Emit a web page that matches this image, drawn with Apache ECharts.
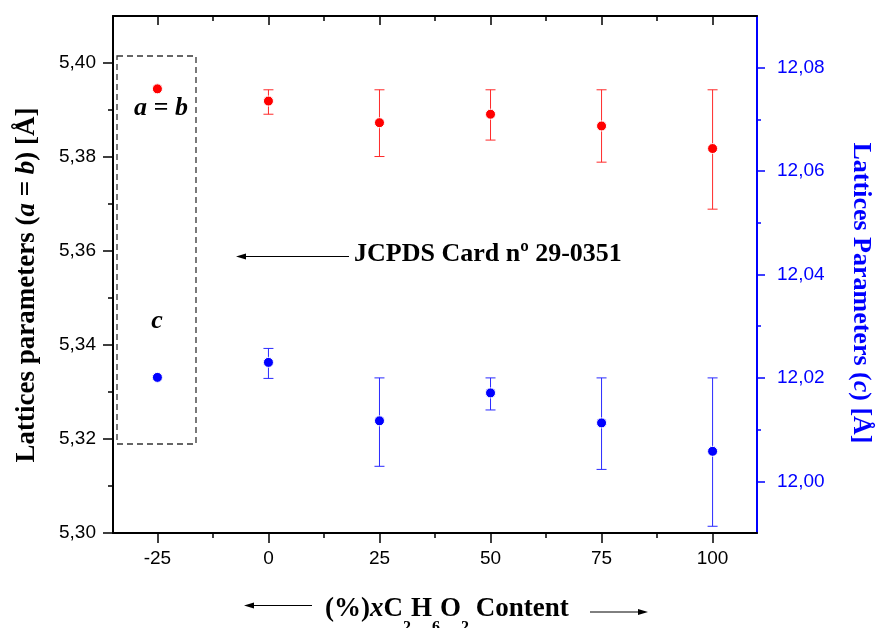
<!DOCTYPE html>
<html><head><meta charset="utf-8">
<script src="https://cdn.jsdelivr.net/npm/echarts@6/dist/echarts.min.js"></script>
<style>html,body{margin:0;padding:0;background:#fff}#c{width:877px;height:628px}</style>
</head><body><div id="c"></div>
<script>
// ---- data ----
const xs      = [-25, 0, 25, 50, 75, 100];
const abVals  = [5.3945, 5.3919, 5.3873, 5.3891, 5.3866, 5.3818];
const abLow   = [null, 5.3891, 5.3801, 5.3836, 5.3789, 5.3689];
const abHigh  = [null, 5.3943, 5.3943, 5.3943, 5.3943, 5.3943];
const cVals   = [12.0201, 12.0230, 12.0117, 12.0171, 12.0113, 12.0058];
const cLow    = [null, 12.0199, 12.0029, 12.0138, 12.0023, 11.9913];
const cHigh   = [null, 12.0257, 12.0200, 12.0200, 12.0200, 12.0200];
// ---- ticks ----
const xMajor = [-25, 0, 25, 50, 75, 100];
const xMinor = [-12.5, 12.5, 37.5, 62.5, 87.5];
const leftMajor = [5.30, 5.32, 5.34, 5.36, 5.38, 5.40];
const leftMinor = [5.31, 5.33, 5.35, 5.37, 5.39];
const rightMajor = [12.00, 12.02, 12.04, 12.06, 12.08];
const rightMinor = [12.01, 12.03, 12.05, 12.07];

const SERIF = '"Liberation Serif", "Times New Roman", serif';
const SANS = '"Liberation Sans", Arial, sans-serif';
const fmt = v => v.toFixed(2).replace('.', ',');

function errRender(params, api) {
  const x = api.value(0), lo = api.value(1), hi = api.value(2);
  const pH = api.coord([x, hi]), pL = api.coord([x, lo]);
  const w = 5;
  const st = { stroke: api.visual('color'), lineWidth: 1 };
  return { type: 'group', children: [
    { type: 'line', shape: { x1: pH[0], y1: pH[1], x2: pL[0], y2: pL[1] }, style: st },
    { type: 'line', shape: { x1: pH[0]-w, y1: pH[1], x2: pH[0]+w, y2: pH[1] }, style: st },
    { type: 'line', shape: { x1: pL[0]-w, y1: pL[1], x2: pL[0]+w, y2: pL[1] }, style: st }
  ]};
}
const abErr = xs.map((x, i) => [x, abLow[i], abHigh[i]]).filter(d => d[1] != null);
const cErr = xs.map((x, i) => [x, cLow[i], cHigh[i]]).filter(d => d[1] != null);

const XMIN = -35, XMAX = 110;
function xAx(pos, values, len, inside, showLine, showLabel) {
  return { type: 'value', position: pos, min: XMIN, max: XMAX,
    axisLine: { show: showLine, onZero: false, lineStyle: { color: '#000', width: 2 } },
    axisTick: { show: true, inside: inside, length: len, customValues: values, lineStyle: { color: '#000', width: 1.5 } },
    axisLabel: { show: showLabel, customValues: values, margin: 16, fontSize: 19, fontFamily: SANS, color: '#000' },
    splitLine: { show: false } };
}
function yAx(pos, min, max, values, len, color, showLine, showLabel, margin) {
  return { type: 'value', position: pos, min: min, max: max,
    axisLine: { show: showLine, onZero: false, lineStyle: { color: color, width: 2 } },
    axisTick: { show: true, length: len, customValues: values, lineStyle: { color: color, width: 1.5 } },
    axisLabel: { show: showLabel, customValues: values, formatter: fmt, margin: margin, fontSize: 19, fontFamily: SANS, color: color },
    splitLine: { show: false } };
}

const chart = echarts.init(document.getElementById('c'), null, { renderer: 'canvas' });
chart.setOption({
  animation: false,
  backgroundColor: '#fff',
  grid: { left: 113, right: 120, top: 16, bottom: 95 },
  xAxis: [
    xAx('bottom', xMajor, 10, false, true, true),
    xAx('bottom', xMinor, 5, false, false, false),
    xAx('top', xMajor, 9, true, true, false),
    xAx('top', xMinor, 5, true, false, false)
  ],
  yAxis: [
    yAx('left', 5.30, 5.41, leftMajor, 10, '#000', true, true, 17),
    yAx('left', 5.30, 5.41, leftMinor, 5, '#000', false, false, 17),
    yAx('right', 11.99, 12.09, rightMajor, 8, '#0000ff', true, true, 20),
    yAx('right', 11.99, 12.09, rightMinor, 4, '#0000ff', false, false, 20)
  ],
  series: [
    { type: 'custom', xAxisIndex: 0, yAxisIndex: 0, renderItem: errRender, data: abErr,
      encode: { x: 0, y: [1, 2] }, itemStyle: { color: '#ff2a2a' }, z: 2 },
    { type: 'custom', xAxisIndex: 0, yAxisIndex: 2, renderItem: errRender, data: cErr,
      encode: { x: 0, y: [1, 2] }, itemStyle: { color: '#2a2aff' }, z: 2 },
    { type: 'scatter', xAxisIndex: 0, yAxisIndex: 0, symbol: 'circle', symbolSize: 10,
      data: xs.map((x, i) => [x, abVals[i]]),
      itemStyle: { color: '#ff0000', borderColor: '#fff', borderWidth: 1, opacity: 1 }, z: 5 },
    { type: 'scatter', xAxisIndex: 0, yAxisIndex: 2, symbol: 'circle', symbolSize: 10,
      data: xs.map((x, i) => [x, cVals[i]]),
      itemStyle: { color: '#0000ff', borderColor: '#fff', borderWidth: 1, opacity: 1 }, z: 5 }
  ],
  graphic: [
    // dashed box
    { type: 'rect', shape: { x: 117, y: 56, width: 79, height: 388 },
      style: { fill: 'none', stroke: '#333', lineWidth: 1.3, lineDash: [6, 4] }, z: 10 },
    { type: 'text', x: 161, y: 108, style: { text: 'a = b', font: 'italic bold 26px ' + SERIF, fill: '#000', align: 'center', verticalAlign: 'middle' }, z: 10 },
    { type: 'text', x: 157, y: 321, style: { text: 'c', font: 'italic bold 26px ' + SERIF, fill: '#000', align: 'center', verticalAlign: 'middle' }, z: 10 },
    // JCPDS arrow
    { type: 'line', shape: { x1: 244, y1: 256.5, x2: 349, y2: 256.5 }, style: { stroke: '#000', lineWidth: 1 }, z: 10 },
    { type: 'polygon', shape: { points: [[236, 256.5], [246, 253.5], [246, 259.5]] }, style: { fill: '#000' }, z: 10 },
    { type: 'text', x: 354, y: 254, style: { text: 'JCPDS Card nº 29-0351', font: 'bold 26px ' + SERIF, fill: '#000', align: 'left', verticalAlign: 'middle' }, z: 10 },
    // left y title
    { type: 'text', x: 27, y: 285, rotation: Math.PI / 2,
      style: { text: '{n|Lattices parameters (}{i|a}{n| = }{i|b}{n|) [Å]}', align: 'center', verticalAlign: 'middle',
        rich: { n: { font: 'bold 27px ' + SERIF, fill: '#000' }, i: { font: 'italic bold 27px ' + SERIF, fill: '#000' } } }, z: 10 },
    // right y title
    { type: 'text', x: 861, y: 293, rotation: -Math.PI / 2,
      style: { text: '{n|Lattices Parameters (}{i|c}{n|) [Å]}', align: 'center', verticalAlign: 'middle',
        rich: { n: { font: 'bold 26px ' + SERIF, fill: '#0000ff' }, i: { font: 'italic bold 26px ' + SERIF, fill: '#0000ff' } } }, z: 10 },
    // x title
    { type: 'text', x: 325, y: 596,
      style: { text: '{t|(%)}{ti|x}{t|C}{s|2}{t|H}{s|6}{t|O}{s|2}{t| Content}', align: 'left', verticalAlign: 'top',
        rich: {
          t: { fontFamily: SERIF, fontWeight: 'bold', fontSize: 27, lineHeight: 30, verticalAlign: 'top', color: '#000' },
          ti: { fontFamily: SERIF, fontWeight: 'bold', fontStyle: 'italic', fontSize: 27, lineHeight: 30, verticalAlign: 'top', color: '#000' },
          s: { fontFamily: SERIF, fontWeight: 'bold', fontSize: 16, lineHeight: 16, padding: [24, 0, 0, 0], verticalAlign: 'top', color: '#000' }
        } }, z: 10 },
    // bottom arrows
    { type: 'line', shape: { x1: 252, y1: 605.5, x2: 312, y2: 605.5 }, style: { stroke: '#000', lineWidth: 1 }, z: 10 },
    { type: 'polygon', shape: { points: [[244, 605.5], [254, 602.5], [254, 608.5]] }, style: { fill: '#000' }, z: 10 },
    { type: 'line', shape: { x1: 590, y1: 612, x2: 640, y2: 612 }, style: { stroke: '#000', lineWidth: 1 }, z: 10 },
    { type: 'polygon', shape: { points: [[648, 612], [638, 609], [638, 615]] }, style: { fill: '#000' }, z: 10 }
  ]
});
</script>
</body></html>
